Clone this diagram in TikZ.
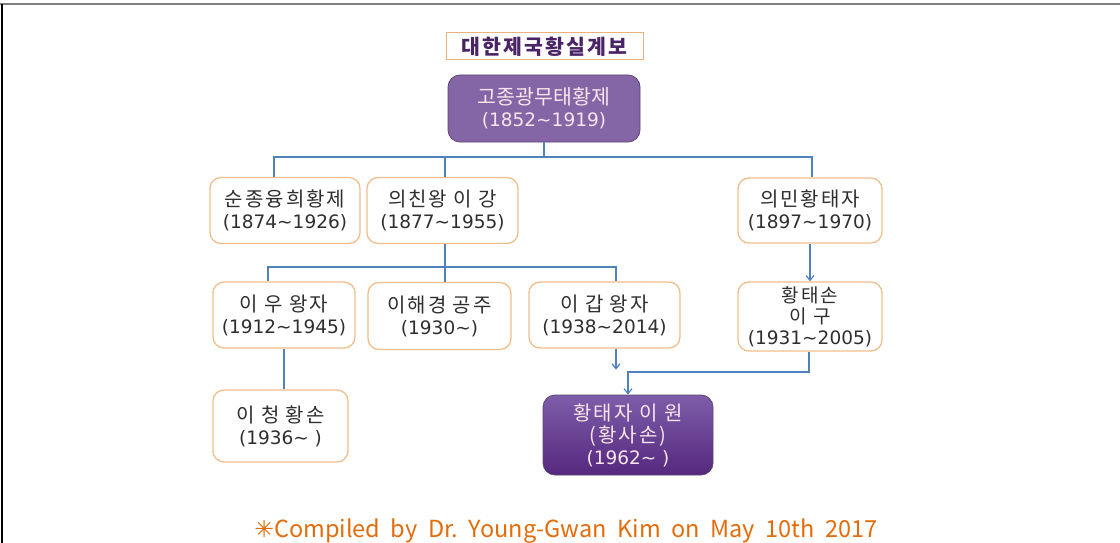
\documentclass[tikz,border=0pt]{standalone}
\usepackage{fontspec}
\setmainfont{Noto Sans CJK KR}
\newfontfamily\kofont{Noto Sans CJK KR}[LetterSpace=10]
\newfontfamily\symfont{DejaVu Sans}
\newfontfamily\numfont{DejaVu Sans}
\newcommand{\yr}[1]{{\numfont\fontsize{18.5}{22}\selectfont #1}}
\usetikzlibrary{arrows.meta}
\definecolor{linkblue}{HTML}{4F81BD}
\definecolor{boxedge}{HTML}{F2BE8C}
\definecolor{txtgray}{HTML}{2E2E2E}
\definecolor{purpA}{HTML}{8466A6}
\definecolor{purpTop}{HTML}{7E5DAA}
\definecolor{purpBot}{HTML}{55287E}
\definecolor{titlepurp}{HTML}{4A2466}
\definecolor{footorange}{HTML}{E46C0A}
\tikzset{
  person/.style={draw=boxedge, line width=1.3pt, fill=white, rounded corners=11pt,
    align=center, text=txtgray, font=\kofont\fontsize{20}{22}\selectfont, inner sep=0pt},
  royal/.style={draw=purpA!70!black, line width=0.8pt, rounded corners=12pt,
    align=center, text=white!90!purple, font=\fontsize{20.5}{22}\selectfont, inner sep=0pt},
  link/.style={draw=linkblue, line width=1.2pt},
  arr/.style={link, -{Straight Barb[length=5pt,width=8pt]}}
}
\begin{document}
\begin{tikzpicture}[x=1pt,y=-1pt]
\useasboundingbox (0,0) rectangle (1120,543);
\draw[gray, line width=2pt] (0,4) -- (1120,4);
\draw[black, line width=2pt] (1.5,4) -- (1.5,543);

\node[draw=boxedge!80!brown, line width=1pt, fill=white, minimum width=197pt, minimum height=27pt, inner sep=0pt,
  text=titlepurp, font=\kofont\fontsize{20.5}{22}\selectfont\bfseries] (title) at (544.5,46.5) {대한제국황실계보};

\node[royal, fill=purpA, minimum width=192pt, minimum height=67pt] (gojong) at (544,108.5) {고종광무태황제\\\yr{(1852\textasciitilde1919)}};

\node[person, minimum width=150pt, minimum height=66pt] (sunjong) at (285,210.5) {순종융희황제\\\yr{(1874\textasciitilde1926)}};
\node[person, minimum width=151pt, minimum height=66pt] (uichin) at (442.5,210.5) {의친왕 이 강\\\yr{(1877\textasciitilde1955)}};
\node[person, minimum width=144pt, minimum height=65pt] (uimin) at (810,210.5) {의민황태자\\\yr{(1897\textasciitilde1970)}};

\node[person, minimum width=142pt, minimum height=66pt] (iu) at (284,315) {이 우 왕자\\\yr{(1912\textasciitilde1945)}};
\node[person, minimum width=143pt, minimum height=67pt] (haegyeong) at (439.5,316) {이해경 공주\\\yr{(1930\textasciitilde)}};
\node[person, minimum width=151pt, minimum height=66pt] (igap) at (604.5,315) {이 갑 왕자\\\yr{(1938\textasciitilde2014)}};
\node[person, minimum width=144pt, minimum height=69pt, font=\kofont\fontsize{19}{21}\selectfont] (taeson) at (810,316.5) {황태손\\이 구\\\yr{(1931\textasciitilde2005)}};

\node[person, minimum width=135pt, minimum height=72pt] (icheong) at (280.5,426) {이 청 황손\\\yr{(1936\textasciitilde\ )}};
\node[royal, top color=purpTop, bottom color=purpBot, minimum width=170pt, minimum height=80pt,
  font=\kofont\fontsize{20}{22}\selectfont] (won) at (628,435) {황태자 이 원\\(황사손)\\\yr{(1962\textasciitilde\ )}};

% generation 1
\coordinate (bus1) at (544,157);
\draw[link] (gojong.south) -- (bus1);
\draw[link] (bus1) -| ([xshift=-11pt]sunjong.north);
\draw[link] (bus1) -| ([xshift=2.5pt]uichin.north);
\draw[link] (bus1) -| ([xshift=2pt]uimin.north);

% generation 2
\coordinate (bus2) at (445,267);
\draw[link] ([xshift=2.5pt]uichin.south) -- (bus2);
\draw[link] (bus2) -| ([xshift=-16pt]iu.north);
\draw[link] (bus2) -| ([xshift=5.5pt]haegyeong.north);
\draw[link] (bus2) -| ([xshift=11.5pt]igap.north);

\draw[link] (iu.south) -- (icheong.north -| iu.south);
\draw[arr] ([xshift=11.5pt]igap.south) -- ++(0,21);
\draw[arr] (uimin.south) -- (taeson.north);

\coordinate (bend) at (809,372);
\draw[arr] (taeson.south -| bend) -- (bend) -| (won.north);

\node[text=footorange, font=\fontsize{23.5}{26}\selectfont, anchor=base] (foot) at (566,537)
  {{\symfont ✳}Compiled\ \ by\ \ Dr.\ \ Young-Gwan\ \ Kim\ \ on\ \ May\ \ 10th\ \ 2017};
\end{tikzpicture}
\end{document}
